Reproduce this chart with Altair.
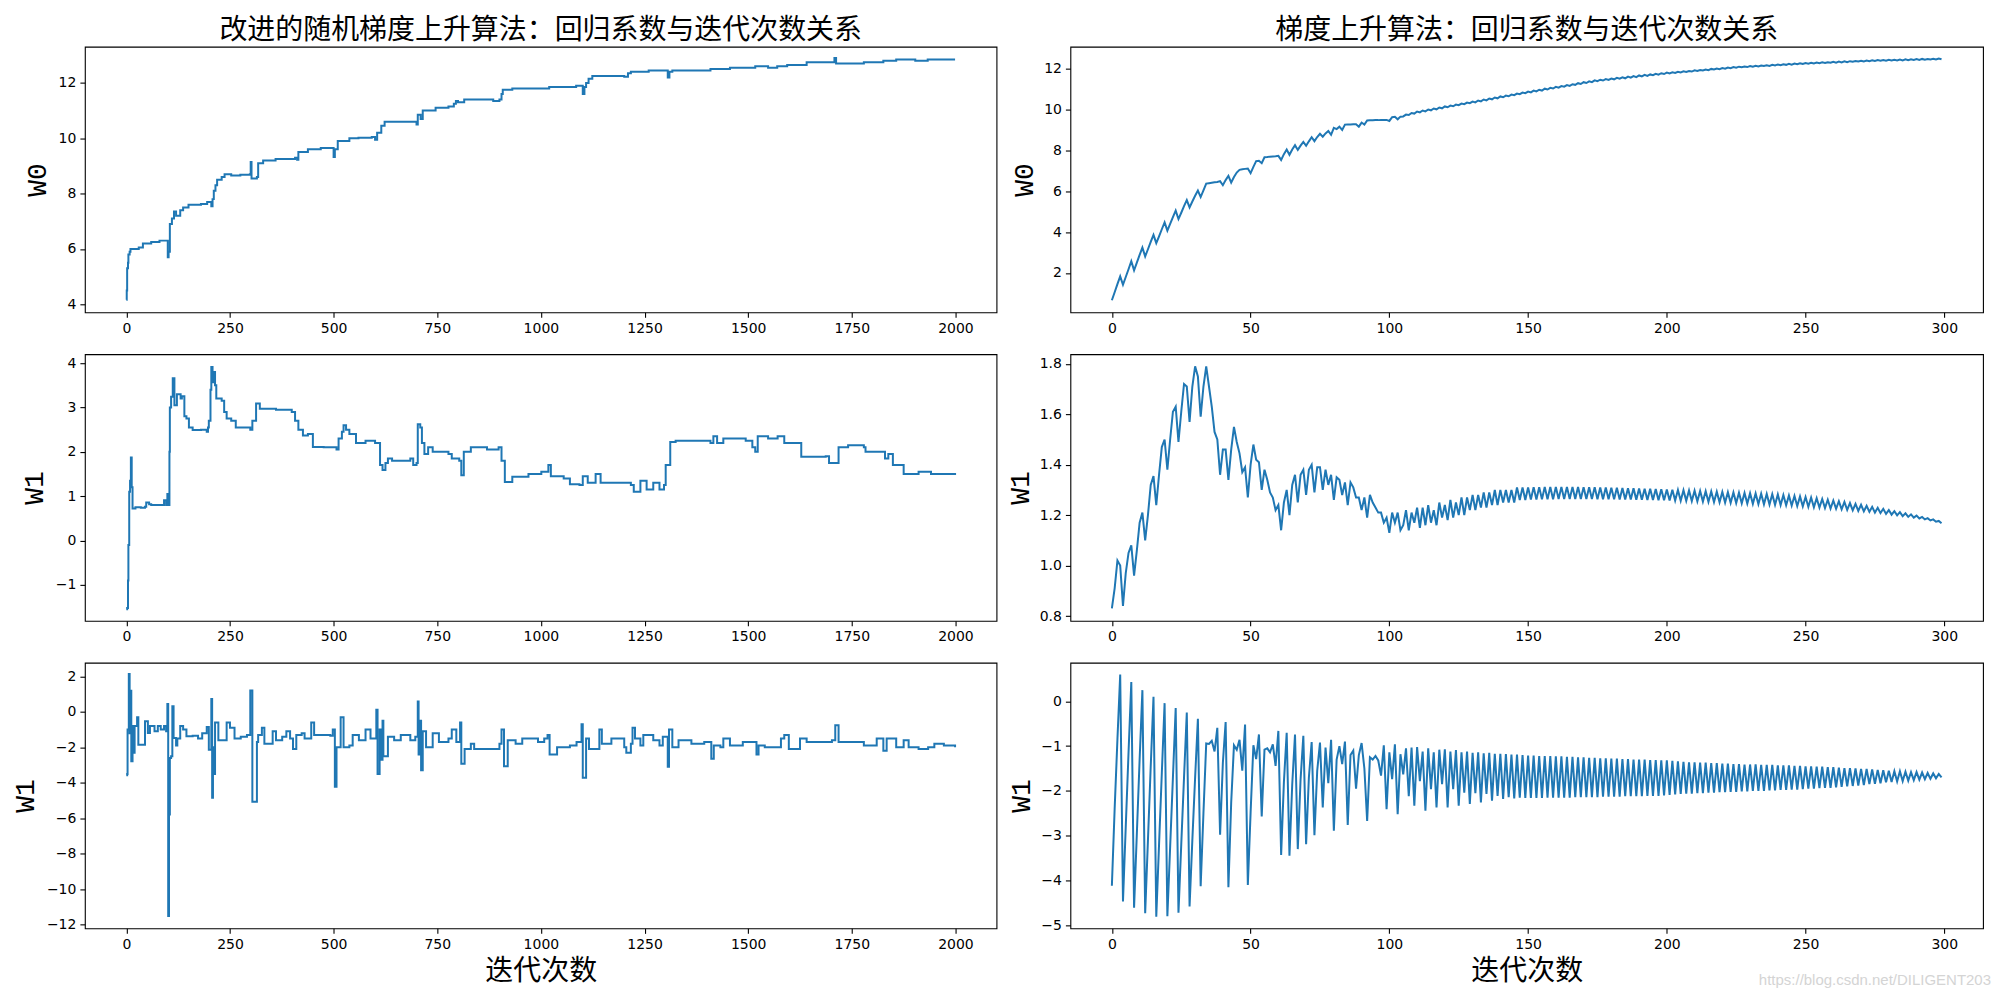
import altair as alt
import pandas as pd

TITLE_LEFT = "改进的随机梯度上升算法：回归系数与迭代次数关系"
TITLE_RIGHT = "梯度上升算法：回归系数与迭代次数关系"
X_TITLE = "迭代次数"
WATERMARK = "https://blog.csdn.net/DILIGENT203"

# ---------------- left column (improved stochastic gradient ascent, 2000 iterations) ----------------
LW0_X = [0, 1, 2, 4, 5, 8, 10, 30, 40, 60, 80, 99, 100, 102, 105, 110, 115, 120, 130, 137,
         150, 180, 195, 205, 208, 211, 215, 219, 230, 237, 253, 275, 298, 300, 302, 315, 318, 330, 360, 407,
         412, 415, 438, 469, 498, 500, 503, 510, 538, 560, 592, 600, 605, 615, 623, 685, 700, 703, 710, 715,
         746, 777, 790, 795, 800, 815, 831, 885, 900, 905, 908, 931, 1008, 1020, 1055, 1085, 1098, 1101, 1105, 1109,
         1115, 1124, 1201, 1210, 1217, 1260, 1301, 1306, 1310, 1317, 1409, 1456, 1517, 1548, 1570, 1594, 1641, 1702, 1708, 1712,
         1779, 1826, 1857, 1903, 1933, 1999]
LW0_Y = [4.16, 4.5, 5.3, 5.5, 5.8, 5.9, 6.0, 6.05, 6.2, 6.25, 6.3, 6.3, 5.7, 5.9, 6.9, 7.1, 7.35, 7.2, 7.4, 7.5,
         7.6, 7.62, 7.7, 7.54, 7.8, 8.1, 8.3, 8.5, 8.6, 8.7, 8.65, 8.68, 8.7, 9.14, 8.55, 8.6, 9.1, 9.2, 9.25, 9.3,
         9.22, 9.5, 9.6, 9.65, 9.65, 9.32, 9.6, 9.9, 10.0, 10.02, 10.05, 9.95, 10.2, 10.45, 10.6, 10.6, 10.5, 10.85, 10.7, 11.0,
         11.1, 11.15, 11.25, 11.35, 11.3, 11.4, 11.4, 11.35, 11.4, 11.6, 11.75, 11.8, 11.8, 11.85, 11.85, 11.9, 11.9, 11.6, 11.85, 12.0,
         12.15, 12.25, 12.22, 12.35, 12.4, 12.45, 12.45, 12.2, 12.4, 12.45, 12.5, 12.55, 12.6, 12.55, 12.6, 12.65, 12.75, 12.75, 12.9, 12.7,
         12.75, 12.8, 12.85, 12.8, 12.85, 12.85]

LW1_X = [0, 2, 4, 5, 7, 9, 11, 13, 15, 22, 35, 45, 48, 55, 60, 83, 91, 96, 99, 102,
         104, 105, 108, 112, 116, 122, 131, 134, 140, 145, 151, 160, 180, 194, 197, 199, 203, 205, 208, 211,
         214, 217, 230, 236, 242, 253, 264, 299, 304, 313, 322, 361, 399, 407, 415, 426, 438, 450, 476, 507,
         512, 520, 524, 530, 538, 554, 577, 600, 612, 618, 625, 631, 641, 685, 692, 700, 703, 709, 713, 719,
         728, 739, 777, 785, 803, 808, 814, 831, 870, 898, 905, 913, 931, 970, 1001, 1018, 1024, 1055, 1070, 1093,
         1101, 1113, 1132, 1144, 1194, 1217, 1224, 1240, 1255, 1271, 1286, 1297, 1301, 1312, 1325, 1409, 1416, 1425, 1440, 1494,
         1510, 1517, 1523, 1548, 1571, 1587, 1622, 1628, 1687, 1695, 1710, 1718, 1741, 1779, 1783, 1826, 1830, 1838, 1849, 1864,
         1875, 1903, 1911, 1941, 1980, 1999]
LW1_Y = [-1.55, -1.52, -0.9, -0.1, 1.1, 1.35, 1.87, 1.2, 0.72, 0.75, 0.74, 0.76, 0.86, 0.82, 0.8, 0.8, 0.91, 0.8, 1.05, 0.8,
         2.0, 3.0, 3.24, 3.66, 3.05, 3.3, 3.2, 3.25, 2.8, 2.75, 2.55, 2.49, 2.5, 2.45, 2.55, 2.7, 3.4, 3.91, 3.57, 3.8,
         3.5, 3.2, 3.15, 2.9, 2.75, 2.7, 2.55, 2.5, 2.7, 3.09, 2.97, 2.95, 2.9, 2.7, 2.5, 2.37, 2.4, 2.11, 2.1, 2.05,
         2.3, 2.45, 2.6, 2.5, 2.4, 2.2, 2.25, 2.2, 1.7, 1.59, 1.75, 1.85, 1.8, 1.85, 1.7, 1.75, 2.62, 2.55, 2.2, 1.95,
         2.1, 2.0, 1.95, 1.85, 1.8, 1.47, 2.0, 2.1, 2.05, 2.1, 1.8, 1.32, 1.44, 1.5, 1.55, 1.7, 1.45, 1.4, 1.27, 1.25,
         1.45, 1.3, 1.5, 1.3, 1.3, 1.25, 1.1, 1.35, 1.15, 1.3, 1.15, 1.25, 1.7, 2.22, 2.25, 2.2, 2.35, 2.2, 2.3, 2.25,
         2.1, 2.0, 2.35, 2.3, 2.35, 2.2, 2.2, 1.89, 1.9, 1.75, 1.75, 2.1, 2.15, 2.1, 2.0, 2.0, 1.85, 1.95, 1.7, 1.7,
         1.5, 1.5, 1.55, 1.5, 1.5, 1.52]

LW2_X = [0, 2, 3, 6, 8, 11, 12, 15, 17, 20, 26, 29, 40, 45, 52, 57, 68, 76, 83, 91,
         96, 99, 101, 103, 105, 108, 111, 114, 120, 123, 130, 137, 145, 160, 173, 183, 194, 199, 205, 207,
         209, 211, 214, 222, 234, 242, 250, 261, 276, 291, 299, 304, 311, 315, 318, 327, 333, 345, 353, 361,
         376, 386, 395, 402, 410, 423, 430, 446, 453, 492, 498, 503, 507, 517, 524, 538, 546, 561, 577, 589,
         603, 606, 611, 615, 618, 620, 631, 646, 662, 685, 697, 703, 705, 708, 711, 715, 723, 739, 754, 777,
         785, 796, 805, 808, 816, 831, 839, 885, 900, 905, 911, 920, 939, 955, 993, 1008, 1016, 1021, 1039, 1070,
         1086, 1098, 1101, 1109, 1116, 1141, 1147, 1170, 1201, 1206, 1217, 1221, 1227, 1240, 1247, 1271, 1286, 1294, 1306, 1309,
         1317, 1332, 1363, 1394, 1411, 1417, 1433, 1440, 1456, 1487, 1520, 1525, 1540, 1579, 1587, 1598, 1625, 1641, 1702, 1710,
         1718, 1779, 1810, 1826, 1834, 1857, 1875, 1887, 1911, 1934, 1949, 1972, 1999]
LW2_Y = [-3.57, -3.5, -1.0, 2.13, -1.2, 1.19, -2.78, -0.8, -2.3, -0.8, -0.31, -1.85, -1.85, -0.53, -1.19, -0.8, -1.1, -0.8, -1.0, -0.8,
         -1.1, 0.44, -11.51, -5.79, -2.6, -2.5, 0.31, -1.47, -1.9, -1.5, -0.8, -1.0, -1.38, -1.35, -1.5, -1.2, -0.85, -2.13, 0.73, -4.85,
         -2.0, -3.5, -0.6, -1.6, -1.6, -0.6, -0.9, -1.5, -1.4, -1.3, 1.21, -5.07, -5.07, -1.7, -1.3, -0.9, -1.8, -1.8, -1.1, -1.6,
         -1.4, -1.1, -1.5, -2.1, -1.3, -1.2, -1.5, -0.6, -1.3, -1.35, -1.0, -4.23, -2.0, -0.3, -2.0, -1.9, -1.3, -1.6, -1.0, -1.5,
         0.12, -3.5, -1.0, -2.7, -0.5, -2.5, -1.4, -1.6, -1.3, -1.6, -1.4, 0.59, -2.4, -0.5, -3.3, -1.1, -2.0, -1.2, -1.7, -1.5,
         -1.0, -1.7, -0.6, -2.92, -2.1, -1.8, -2.1, -2.1, -1.8, -1.0, -3.07, -1.6, -1.8, -1.5, -1.7, -1.5, -1.3, -2.4, -2.0, -1.9,
         -1.7, -0.7, -3.72, -1.5, -2.1, -1.0, -1.8, -1.5, -2.0, -2.3, -1.8, -0.9, -1.5, -1.9, -1.3, -1.6, -1.9, -1.4, -3.1, -1.0,
         -2.0, -1.6, -1.8, -1.7, -2.65, -1.9, -2.0, -1.5, -1.9, -1.7, -2.4, -1.9, -2.0, -1.5, -1.3, -2.1, -1.5, -1.7, -1.6, -0.75,
         -1.7, -1.9, -1.5, -2.2, -1.5, -2.0, -1.6, -2.0, -2.1, -2.0, -1.8, -1.9, -2.0]

# ---------------- right column (batch gradient ascent, 300 iterations) ----------------
RIGHT_X = list(range(300))
RW0 = [0.66, 1.05, 1.45, 1.83, 1.42, 1.80, 2.18, 2.57, 2.13, 2.50,
       2.88, 3.24, 2.81, 3.16, 3.52, 3.86, 3.46, 3.79, 4.14, 4.48,
       4.07, 4.40, 4.73, 5.05, 4.64, 4.95, 5.27, 5.57, 5.21, 5.50,
       5.78, 6.04, 5.72, 6.05, 6.38, 6.40, 6.42, 6.44, 6.46, 6.50,
       6.30, 6.55, 6.76, 6.43, 6.70, 6.92, 7.05, 7.08, 7.10, 7.12,
       6.89, 7.20, 7.48, 7.50, 7.38, 7.67, 7.68, 7.70, 7.71, 7.72,
       7.74, 7.54, 7.82, 8.05, 7.79, 8.05, 8.26, 8.03, 8.24, 8.42,
       8.23, 8.45, 8.65, 8.46, 8.66, 8.82, 8.68, 8.84, 8.96, 8.77,
       9.11, 9.05, 9.17, 9.01, 9.27, 9.28, 9.28, 9.29, 9.29, 9.17,
       9.37, 9.27, 9.47, 9.48, 9.48, 9.49, 9.49, 9.50, 9.50, 9.50,
       9.45, 9.63, 9.65, 9.53, 9.66, 9.67, 9.76, 9.74, 9.84, 9.81,
       9.91, 9.87, 9.96, 9.92, 10.01, 9.97, 10.06, 10.02, 10.11, 10.07,
       10.16, 10.12, 10.20, 10.17, 10.25, 10.22, 10.30, 10.27, 10.35, 10.32,
       10.40, 10.36, 10.45, 10.41, 10.50, 10.46, 10.55, 10.51, 10.60, 10.56,
       10.65, 10.61, 10.69, 10.66, 10.74, 10.71, 10.79, 10.76, 10.84, 10.81,
       10.89, 10.85, 10.94, 10.90, 10.98, 10.94, 11.03, 10.99, 11.07, 11.04,
       11.12, 11.08, 11.16, 11.13, 11.21, 11.17, 11.25, 11.22, 11.30, 11.26,
       11.35, 11.31, 11.39, 11.35, 11.44, 11.40, 11.47, 11.43, 11.50, 11.46,
       11.53, 11.49, 11.56, 11.52, 11.59, 11.54, 11.62, 11.57, 11.65, 11.60,
       11.68, 11.63, 11.71, 11.66, 11.73, 11.69, 11.76, 11.72, 11.79, 11.75,
       11.82, 11.78, 11.83, 11.80, 11.86, 11.83, 11.88, 11.85, 11.90, 11.87,
       11.93, 11.90, 11.95, 11.92, 11.97, 11.94, 12.00, 11.97, 12.02, 11.99,
       12.04, 12.01, 12.07, 12.04, 12.09, 12.06, 12.11, 12.08, 12.12, 12.09,
       12.14, 12.11, 12.15, 12.12, 12.17, 12.14, 12.18, 12.15, 12.20, 12.17,
       12.22, 12.18, 12.23, 12.20, 12.25, 12.21, 12.26, 12.23, 12.28, 12.24,
       12.29, 12.26, 12.30, 12.27, 12.31, 12.28, 12.32, 12.29, 12.33, 12.30,
       12.35, 12.31, 12.36, 12.32, 12.37, 12.33, 12.38, 12.35, 12.39, 12.36,
       12.40, 12.37, 12.41, 12.38, 12.42, 12.39, 12.43, 12.40, 12.44, 12.40,
       12.45, 12.41, 12.45, 12.42, 12.46, 12.42, 12.47, 12.43, 12.47, 12.44,
       12.48, 12.44, 12.49, 12.45, 12.49, 12.46, 12.50, 12.46, 12.51, 12.47]

RW1 = [0.83, 0.91, 1.02, 1.00, 0.84, 0.97, 1.05, 1.08, 0.96, 1.06,
       1.17, 1.21, 1.10, 1.20, 1.32, 1.355, 1.24, 1.36, 1.47, 1.50,
       1.38, 1.50, 1.61, 1.63, 1.49, 1.61, 1.72, 1.71, 1.57, 1.71,
       1.79, 1.75, 1.59, 1.71, 1.79, 1.71, 1.63, 1.53, 1.50, 1.36,
       1.46, 1.46, 1.34, 1.46, 1.55, 1.49, 1.445, 1.37, 1.39, 1.27,
       1.40, 1.48, 1.42, 1.41, 1.30, 1.38, 1.34, 1.29, 1.27, 1.22,
       1.24, 1.14, 1.25, 1.30, 1.20, 1.32, 1.36, 1.25, 1.36, 1.38,
       1.28, 1.38, 1.40, 1.29, 1.39, 1.39, 1.30, 1.38, 1.32, 1.36,
       1.26, 1.35, 1.34, 1.28, 1.33, 1.24, 1.33, 1.31, 1.27, 1.27,
       1.22, 1.27, 1.19, 1.28, 1.25, 1.23, 1.21, 1.21, 1.17, 1.19,
       1.13, 1.21, 1.17, 1.21, 1.14, 1.16, 1.22, 1.14, 1.21, 1.17,
       1.23, 1.15, 1.23, 1.16, 1.24, 1.17, 1.22, 1.16, 1.25, 1.19,
       1.24, 1.18, 1.26, 1.19, 1.25, 1.20, 1.27, 1.20, 1.27, 1.22,
       1.28, 1.22, 1.28, 1.23, 1.29, 1.23, 1.29, 1.24, 1.30, 1.24,
       1.30, 1.25, 1.30, 1.25, 1.30, 1.25, 1.31, 1.26, 1.31, 1.26,
       1.310, 1.262, 1.311, 1.262, 1.311, 1.263, 1.312, 1.263, 1.312, 1.263,
       1.312, 1.264, 1.312, 1.264, 1.312, 1.264, 1.312, 1.264, 1.312, 1.264,
       1.311, 1.264, 1.311, 1.264, 1.311, 1.263, 1.310, 1.263, 1.310, 1.263,
       1.309, 1.263, 1.309, 1.262, 1.308, 1.262, 1.307, 1.262, 1.307, 1.261,
       1.306, 1.261, 1.305, 1.260, 1.305, 1.260, 1.304, 1.259, 1.303, 1.259,
       1.302, 1.258, 1.301, 1.258, 1.300, 1.257, 1.299, 1.257, 1.298, 1.256,
       1.297, 1.255, 1.296, 1.254, 1.295, 1.253, 1.294, 1.252, 1.293, 1.251,
       1.292, 1.250, 1.291, 1.249, 1.290, 1.248, 1.289, 1.247, 1.288, 1.246,
       1.287, 1.245, 1.286, 1.244, 1.285, 1.243, 1.284, 1.242, 1.283, 1.241,
       1.282, 1.240, 1.280, 1.239, 1.278, 1.238, 1.276, 1.236, 1.274, 1.235,
       1.272, 1.233, 1.270, 1.231, 1.267, 1.230, 1.264, 1.228, 1.261, 1.226,
       1.258, 1.225, 1.255, 1.223, 1.252, 1.221, 1.248, 1.219, 1.245, 1.217,
       1.241, 1.215, 1.237, 1.213, 1.233, 1.210, 1.229, 1.208, 1.225, 1.205,
       1.220, 1.202, 1.216, 1.199, 1.212, 1.196, 1.207, 1.193, 1.203, 1.190,
       1.198, 1.187, 1.193, 1.183, 1.188, 1.179, 1.183, 1.174, 1.177, 1.168]

RW2 = [-4.12, -2.40, -0.85, 0.60, -4.47, -2.80, -1.15, 0.43, -4.61, -2.95,
       -1.30, 0.25, -4.73, -3.10, -1.45, 0.10, -4.81, -3.20, -1.60, -0.04,
       -4.80, -3.25, -1.70, -0.15, -4.72, -3.20, -1.70, -0.25, -4.58, -3.10,
       -1.70, -0.39, -4.13, -2.50, -0.94, -0.95, -0.88, -1.12, -0.59, -2.98,
       -1.37, -0.46, -4.15, -2.26, -0.98, -1.08, -0.86, -1.55, -0.52, -4.10,
       -2.48, -0.98, -1.29, -0.74, -2.57, -1.08, -1.05, -1.14, -0.96, -1.44,
       -0.66, -3.43, -1.80, -0.70, -3.45, -1.85, -0.74, -3.30, -1.75, -0.77,
       -3.19, -1.70, -0.91, -2.99, -1.55, -0.92, -2.37, -1.03, -1.83, -0.86,
       -2.89, -1.30, -1.00, -1.40, -0.90, -2.76, -1.20, -1.10, -1.95, -1.20,
       -0.93, -1.50, -2.67, -1.25, -1.30, -1.22, -1.32, -1.66, -0.98, -2.41,
       -1.14, -1.74, -0.96, -2.52, -1.18, -1.63, -1.05, -2.12, -1.03, -2.33,
       -1.02, -1.78, -1.12, -2.44, -1.05, -1.96, -1.14, -2.37, -1.08, -1.85,
       -1.07, -2.37, -1.12, -1.96, -1.09, -2.33, -1.14, -2.04, -1.12, -2.29,
       -1.15, -2.05, -1.14, -2.26, -1.16, -2.07, -1.15, -2.22, -1.17, -2.11,
       -1.17, -2.18, -1.18, -2.14, -1.19, -2.17, -1.19, -2.15, -1.20, -2.16,
       -1.21, -2.16, -1.21, -2.16, -1.22, -2.16, -1.22, -2.15, -1.22, -2.15,
       -1.23, -2.15, -1.23, -2.15, -1.24, -2.15, -1.24, -2.14, -1.25, -2.14,
       -1.25, -2.14, -1.26, -2.14, -1.26, -2.14, -1.27, -2.13, -1.27, -2.13,
       -1.28, -2.13, -1.28, -2.13, -1.29, -2.12, -1.29, -2.12, -1.30, -2.12,
       -1.30, -2.12, -1.30, -2.11, -1.31, -2.11, -1.31, -2.11, -1.32, -2.10,
       -1.32, -2.09, -1.33, -2.08, -1.34, -2.07, -1.35, -2.06, -1.36, -2.06,
       -1.36, -2.05, -1.37, -2.05, -1.37, -2.04, -1.38, -2.04, -1.38, -2.03,
       -1.39, -2.03, -1.39, -2.02, -1.40, -2.02, -1.40, -2.01, -1.41, -2.01,
       -1.41, -2.00, -1.41, -2.00, -1.42, -2.00, -1.42, -1.99, -1.42, -1.99,
       -1.43, -1.98, -1.43, -1.98, -1.43, -1.97, -1.44, -1.97, -1.44, -1.96,
       -1.45, -1.95, -1.45, -1.95, -1.46, -1.94, -1.46, -1.93, -1.47, -1.93,
       -1.47, -1.92, -1.48, -1.91, -1.49, -1.90, -1.49, -1.89, -1.50, -1.88,
       -1.51, -1.87, -1.51, -1.85, -1.52, -1.84, -1.53, -1.83, -1.54, -1.81,
       -1.55, -1.80, -1.56, -1.79, -1.56, -1.78, -1.57, -1.77, -1.58, -1.76,
       -1.58, -1.75, -1.59, -1.74, -1.60, -1.73, -1.61, -1.72, -1.62, -1.70]

LEFT_XTICKS = [0, 250, 500, 750, 1000, 1250, 1500, 1750, 2000]
RIGHT_XTICKS = [0, 50, 100, 150, 200, 250, 300]

BLUE = "#1f77b4"
LW, RW = 913, 914
HS = [266, 267, 266]


def panel(xs, ys, xdom, xticks, ydom, yticks, yfmt, ytitle, ytitle_x, w, h,
          step=False, xtitle="", title=None, extra=None):
    df = pd.DataFrame({"x": xs, "y": ys})
    xaxis_kw = dict(values=xticks, format="d", tickSize=5, tickWidth=1.1, tickColor="black",
                    labelFont="DejaVu Sans", labelFontSize=14, labelColor="black",
                    labelPadding=4, domain=False, grid=False, labelFlush=False,
                    labelOverlap=False, title=xtitle)
    if xtitle:
        xaxis_kw.update(titleFont="Noto Sans CJK SC", titleFontSize=28, titleFontWeight="normal",
                        titleColor="black", titleX=w / 2, titleY=51, titleAlign="center",
                        titleBaseline="alphabetic")
    yaxis = alt.Axis(values=yticks, format=yfmt, tickSize=5, tickWidth=1.1, tickColor="black",
                     labelFont="DejaVu Sans", labelFontSize=14, labelColor="black",
                     labelPadding=4, domain=False, grid=False, labelFlush=False,
                     labelOverlap=False, title=ytitle, titleFont="Liberation Mono",
                     titleFontSize=28, titleFontWeight="normal", titleColor="black",
                     titleAngle=270, titleX=ytitle_x, titleY=h / 2, titleAlign="center",
                     titleBaseline="middle")
    line = alt.Chart(df).mark_line(color=BLUE, strokeWidth=2,
                                   interpolate="step-after" if step else "linear",
                                   clip=True).encode(
        x=alt.X("x:Q", scale=alt.Scale(domain=xdom, nice=False, zero=False),
                axis=alt.Axis(**xaxis_kw)),
        y=alt.Y("y:Q", scale=alt.Scale(domain=ydom, nice=False, zero=False), axis=yaxis),
    )
    ch = line if extra is None else alt.layer(line, extra)
    ch = ch.properties(width=w, height=h)
    if title:
        ch = ch.properties(title=alt.Title(title, font="Noto Sans CJK SC", fontSize=28,
                                           fontWeight="normal", color="black", anchor="middle",
                                           frame="group", baseline="alphabetic", offset=-20))
    return ch


LXD = [-99.95, 2098.95]
RXD = [-14.95, 313.95]

l1 = panel(LW0_X, LW0_Y, LXD, LEFT_XTICKS, [3.71, 13.31], [4, 6, 8, 10, 12], "d", "W0", -47.5,
           LW, HS[0], step=True, title=TITLE_LEFT)
l2 = panel(LW1_X, LW1_Y, LXD, LEFT_XTICKS, [-1.81, 4.2], [-1, 0, 1, 2, 3, 4], "d", "W1", -50.5,
           LW, HS[1], step=True)
l3 = panel(LW2_X, LW2_Y, LXD, LEFT_XTICKS, [-12.21, 2.77], [-12, -10, -8, -6, -4, -2, 0, 2], "d",
           "W1", -59.5, LW, HS[2], step=True, xtitle=X_TITLE)

wm = alt.Chart(pd.DataFrame({"t": [WATERMARK]})).mark_text(
    align="right", baseline="alphabetic", font="Liberation Sans", fontSize=15,
    color="#d4d4d4").encode(x=alt.value(RW + 8), y=alt.value(HS[2] + 57), text="t:N")

r1 = panel(RIGHT_X, RW0, RXD, RIGHT_XTICKS, [0.07, 13.09], [2, 4, 6, 8, 10, 12], "d", "W0", -45.5,
           RW, HS[0], title=TITLE_RIGHT)
r2 = panel(RIGHT_X, RW1, RXD, RIGHT_XTICKS, [0.781, 1.838], [0.8, 1.0, 1.2, 1.4, 1.6, 1.8], ".1f",
           "W1", -49.5, RW, HS[1])
r3 = panel(RIGHT_X, RW2, RXD, RIGHT_XTICKS, [-5.07, 0.862], [-5, -4, -3, -2, -1, 0], "d", "W1",
           -48.5, RW, HS[2], xtitle=X_TITLE, extra=wm)

chart = alt.concat(l1, r1, l2, r2, l3, r3, columns=2,
                   spacing=alt.RowColnumber(row=42, column=74), bounds="flush").properties(
    padding={"left": 2, "top": 7, "right": 0, "bottom": 0},
    background="white",
).configure_view(stroke="black", strokeWidth=1.1)

chart.save("out.html", embed_options={"renderer": "svg", "actions": False})
